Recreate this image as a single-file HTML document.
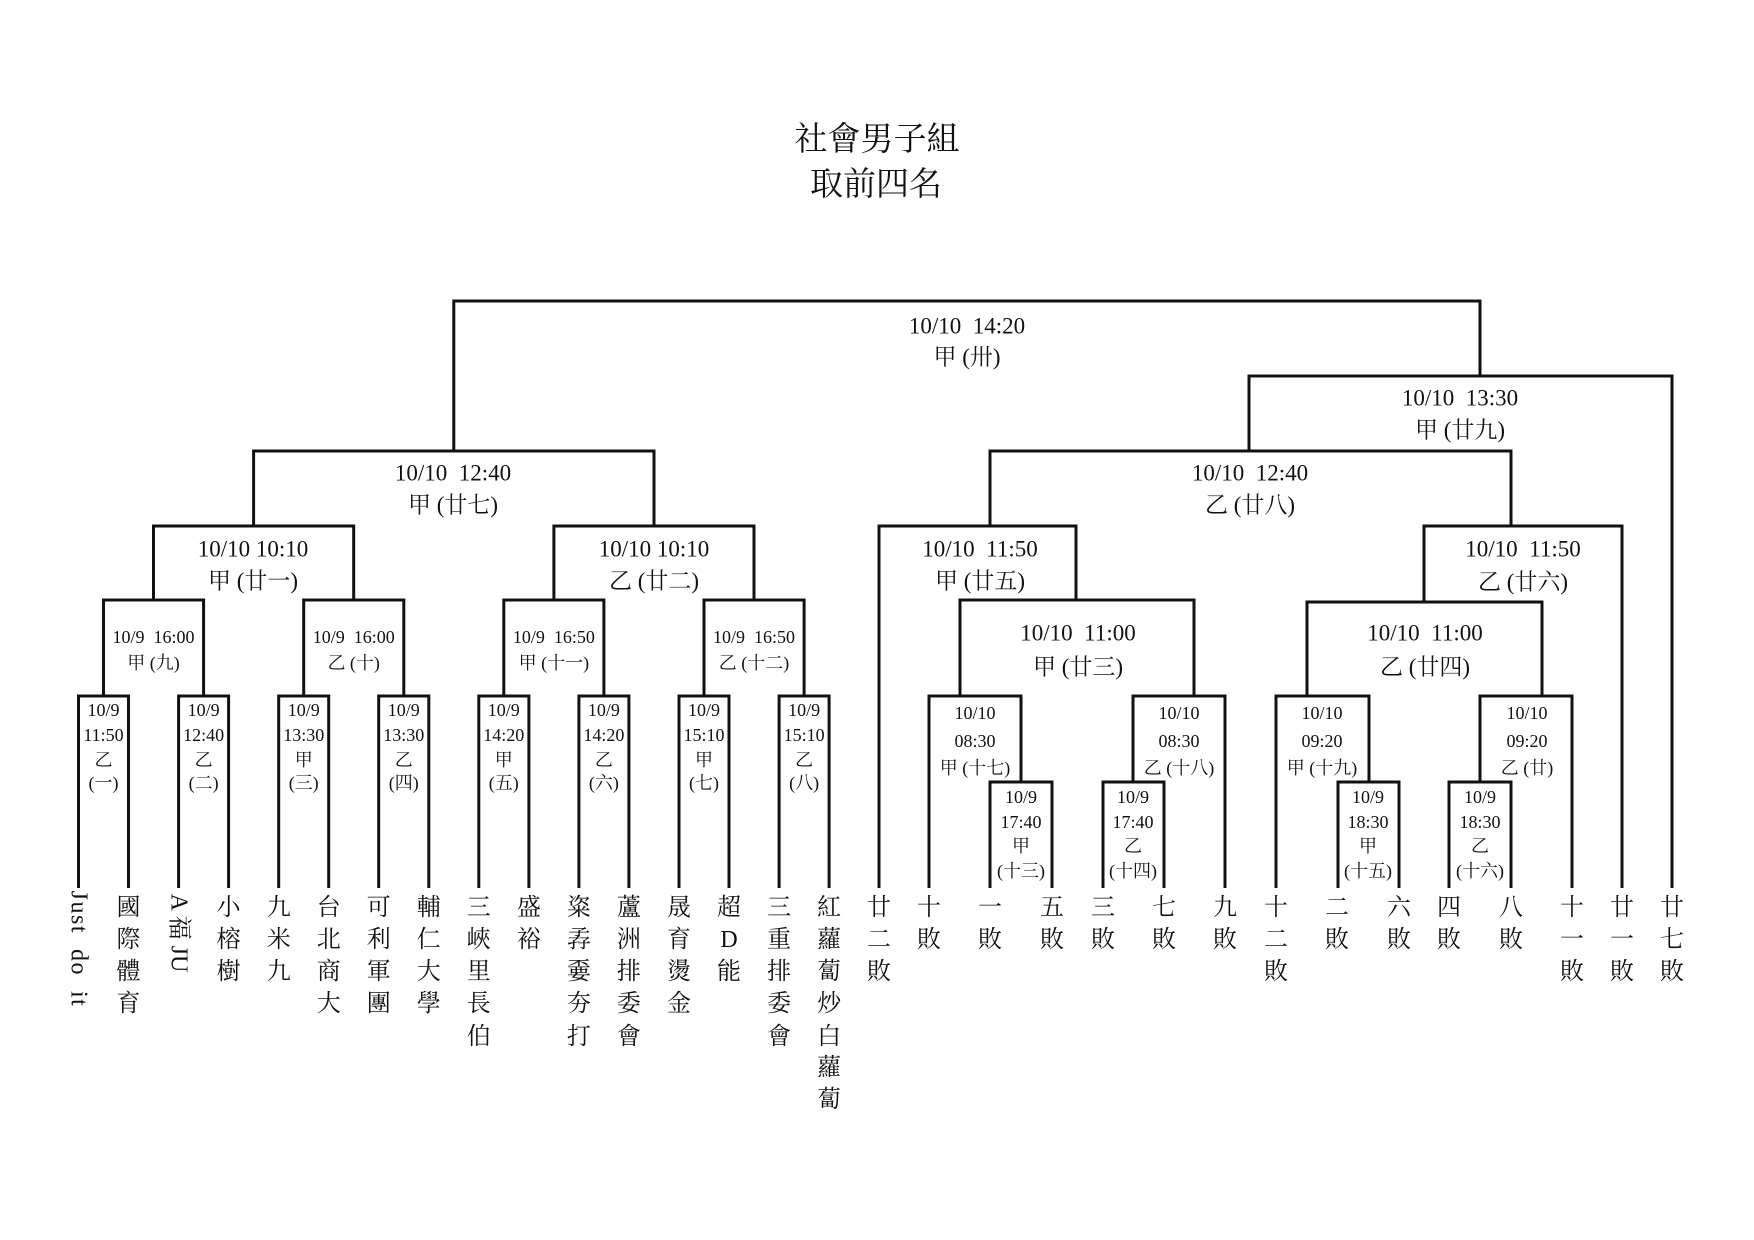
<!DOCTYPE html>
<html><head><meta charset="utf-8">
<style>
html,body{margin:0;padding:0;background:#fff;}
svg{display:block;}
text{font-family:"Liberation Serif","Noto Serif CJK SC","Noto Sans CJK TC",serif;fill:#111;}
.b{font-size:23px;}
.s{font-size:18px;}
.l{font-size:24px;}
.t{font-size:33px;}
</style></head><body>
<svg width="1754" height="1240" viewBox="0 0 1754 1240" xmlns="http://www.w3.org/2000/svg">
<rect width="1754" height="1240" fill="#fff"/>
<g fill="none" stroke="#111" stroke-width="3">
<!-- level1 left -->
<path d="M78.5 888V696H128.5V888"/>
<path d="M178.6 888V696H228.6V888"/>
<path d="M278.7 888V696H328.7V888"/>
<path d="M378.7 888V696H428.8V888"/>
<path d="M478.8 888V696H528.9V888"/>
<path d="M578.9 888V696H628.9V888"/>
<path d="M679 888V696H729V888"/>
<path d="M779.1 888V696H829.1V888"/>
<!-- level2 -->
<path d="M103.5 696V600H203.6V696"/>
<path d="M303.7 696V600H403.8V696"/>
<path d="M503.8 696V600H603.9V696"/>
<path d="M704 696V600H804.1V696"/>
<!-- level3 -->
<path d="M153.5 600V526H353.7V600"/>
<path d="M553.9 600V526H754V600"/>
<path d="M253.6 526V451H654V526"/>
<!-- top -->
<path d="M453.8 451V301H1480V376"/>
<path d="M1249 451V376H1672V888"/>
<path d="M990 526V451H1511V526"/>
<path d="M879 888V526H1076V600"/>
<path d="M960 696V600H1194V696"/>
<path d="M929 888V696H1021V782"/>
<path d="M990 888V782H1052V888"/>
<path d="M1133 782V696H1225V888"/>
<path d="M1103 888V782H1164V888"/>
<path d="M1424 602V526H1622V888"/>
<path d="M1307 696V602H1542V696"/>
<path d="M1276 888V696H1369V782"/>
<path d="M1338 888V782H1399V888"/>
<path d="M1480 782V696H1572V888"/>
<path d="M1449 888V782H1511V888"/>
</g>
<g text-anchor="middle" dominant-baseline="central">
<text class="t" x="877" y="140">社會男子組</text>
<text class="t" x="876" y="185">取前四名</text>

<text class="b" x="967" y="326" xml:space="preserve">10/10  14:20</text>
<text class="b" x="967" y="357">甲 (卅)</text>
<text class="b" x="1460" y="398" xml:space="preserve">10/10  13:30</text>
<text class="b" x="1460" y="430">甲 (廿九)</text>
<text class="b" x="453" y="473" xml:space="preserve">10/10  12:40</text>
<text class="b" x="453" y="505">甲 (廿七)</text>
<text class="b" x="1250" y="473" xml:space="preserve">10/10  12:40</text>
<text class="b" x="1250" y="505">乙 (廿八)</text>
<text class="b" x="253" y="549">10/10 10:10</text>
<text class="b" x="253" y="581">甲 (廿一)</text>
<text class="b" x="654" y="549">10/10 10:10</text>
<text class="b" x="654" y="581">乙 (廿二)</text>
<text class="b" x="980" y="549" xml:space="preserve">10/10  11:50</text>
<text class="b" x="980" y="581">甲 (廿五)</text>
<text class="b" x="1523" y="549" xml:space="preserve">10/10  11:50</text>
<text class="b" x="1523" y="582">乙 (廿六)</text>
<text class="b" x="1078" y="633" xml:space="preserve">10/10  11:00</text>
<text class="b" x="1078" y="667">甲 (廿三)</text>
<text class="b" x="1425" y="633" xml:space="preserve">10/10  11:00</text>
<text class="b" x="1425" y="667">乙 (廿四)</text>

<g class="s">
<text x="153.5" y="637" xml:space="preserve">10/9  16:00</text><text x="153.5" y="663">甲 (九)</text>
<text x="353.7" y="637" xml:space="preserve">10/9  16:00</text><text x="353.7" y="663">乙 (十)</text>
<text x="553.9" y="637" xml:space="preserve">10/9  16:50</text><text x="553.9" y="663">甲 (十一)</text>
<text x="754" y="637" xml:space="preserve">10/9  16:50</text><text x="754" y="663">乙 (十二)</text>

<text x="103.5" y="710">10/9</text><text x="103.5" y="735">11:50</text><text x="103.5" y="760">乙</text><text x="103.5" y="783">(一)</text>
<text x="203.6" y="710">10/9</text><text x="203.6" y="735">12:40</text><text x="203.6" y="760">乙</text><text x="203.6" y="783">(二)</text>
<text x="303.7" y="710">10/9</text><text x="303.7" y="735">13:30</text><text x="303.7" y="760">甲</text><text x="303.7" y="783">(三)</text>
<text x="403.8" y="710">10/9</text><text x="403.8" y="735">13:30</text><text x="403.8" y="760">乙</text><text x="403.8" y="783">(四)</text>
<text x="503.8" y="710">10/9</text><text x="503.8" y="735">14:20</text><text x="503.8" y="760">甲</text><text x="503.8" y="783">(五)</text>
<text x="603.9" y="710">10/9</text><text x="603.9" y="735">14:20</text><text x="603.9" y="760">乙</text><text x="603.9" y="783">(六)</text>
<text x="704" y="710">10/9</text><text x="704" y="735">15:10</text><text x="704" y="760">甲</text><text x="704" y="783">(七)</text>
<text x="804.1" y="710">10/9</text><text x="804.1" y="735">15:10</text><text x="804.1" y="760">乙</text><text x="804.1" y="783">(八)</text>

<text x="975" y="713">10/10</text><text x="975" y="741">08:30</text><text x="975" y="768">甲 (十七)</text>
<text x="1179" y="713">10/10</text><text x="1179" y="741">08:30</text><text x="1179" y="768">乙 (十八)</text>
<text x="1322" y="713">10/10</text><text x="1322" y="741">09:20</text><text x="1322" y="768">甲 (十九)</text>
<text x="1527" y="713">10/10</text><text x="1527" y="741">09:20</text><text x="1527" y="768">乙 (廿)</text>

<text x="1021" y="797">10/9</text><text x="1021" y="822">17:40</text><text x="1021" y="846">甲</text><text x="1021" y="871">(十三)</text>
<text x="1133" y="797">10/9</text><text x="1133" y="822">17:40</text><text x="1133" y="846">乙</text><text x="1133" y="871">(十四)</text>
<text x="1368" y="797">10/9</text><text x="1368" y="822">18:30</text><text x="1368" y="846">甲</text><text x="1368" y="871">(十五)</text>
<text x="1480" y="797">10/9</text><text x="1480" y="822">18:30</text><text x="1480" y="846">乙</text><text x="1480" y="871">(十六)</text>
</g>

<g class="l">
<text x="0" y="0" transform="translate(78.5 949) rotate(90)" text-anchor="middle" letter-spacing="1.5" xml:space="preserve">Just  do  it</text>
<text x="0" y="0" transform="translate(178.6 933) rotate(90)" text-anchor="middle" xml:space="preserve">A 福 JU</text>
</g>
</g>
<g class="l" text-anchor="middle" dominant-baseline="central" id="leaves"></g>
<g class="l" text-anchor="middle" dominant-baseline="central">
<!-- 國際體育 --><text x="128.5" y="908">國</text><text x="128.5" y="940">際</text><text x="128.5" y="972">體</text><text x="128.5" y="1004">育</text>
<text x="228.6" y="908">小</text><text x="228.6" y="940">榕</text><text x="228.6" y="972">樹</text>
<text x="278.7" y="908">九</text><text x="278.7" y="940">米</text><text x="278.7" y="972">九</text>
<text x="328.7" y="908">台</text><text x="328.7" y="940">北</text><text x="328.7" y="972">商</text><text x="328.7" y="1004">大</text>
<text x="378.7" y="908">可</text><text x="378.7" y="940">利</text><text x="378.7" y="972">軍</text><text x="378.7" y="1004">團</text>
<text x="428.8" y="908">輔</text><text x="428.8" y="940">仁</text><text x="428.8" y="972">大</text><text x="428.8" y="1004">學</text>
<text x="478.8" y="908">三</text><text x="478.8" y="940">峽</text><text x="478.8" y="972">里</text><text x="478.8" y="1004">長</text><text x="478.8" y="1037">伯</text>
<text x="528.9" y="908">盛</text><text x="528.9" y="940">裕</text>
<text x="578.9" y="908">粢</text><text x="578.9" y="940">孨</text><text x="578.9" y="972">嫑</text><text x="578.9" y="1004">夯</text><text x="578.9" y="1037">打</text>
<text x="628.9" y="908">蘆</text><text x="628.9" y="940">洲</text><text x="628.9" y="972">排</text><text x="628.9" y="1004">委</text><text x="628.9" y="1037">會</text>
<text x="679" y="908">晟</text><text x="679" y="940">育</text><text x="679" y="972">燙</text><text x="679" y="1004">金</text>
<text x="729" y="908">超</text><text x="729" y="940">D</text><text x="729" y="972">能</text>
<text x="779.1" y="908">三</text><text x="779.1" y="940">重</text><text x="779.1" y="972">排</text><text x="779.1" y="1004">委</text><text x="779.1" y="1037">會</text>
<text x="829.1" y="908">紅</text><text x="829.1" y="940">蘿</text><text x="829.1" y="972">蔔</text><text x="829.1" y="1004">炒</text><text x="829.1" y="1037">白</text><text x="829.1" y="1068">蘿</text><text x="829.1" y="1100">蔔</text>
<text x="879" y="908">廿</text><text x="879" y="940">二</text><text x="879" y="972">敗</text>
<text x="929" y="908">十</text><text x="929" y="940">敗</text>
<text x="990" y="908">一</text><text x="990" y="940">敗</text>
<text x="1052" y="908">五</text><text x="1052" y="940">敗</text>
<text x="1103" y="908">三</text><text x="1103" y="940">敗</text>
<text x="1164" y="908">七</text><text x="1164" y="940">敗</text>
<text x="1225" y="908">九</text><text x="1225" y="940">敗</text>
<text x="1276" y="908">十</text><text x="1276" y="940">二</text><text x="1276" y="972">敗</text>
<text x="1337" y="908">二</text><text x="1337" y="940">敗</text>
<text x="1399" y="908">六</text><text x="1399" y="940">敗</text>
<text x="1449" y="908">四</text><text x="1449" y="940">敗</text>
<text x="1511" y="908">八</text><text x="1511" y="940">敗</text>
<text x="1572" y="908">十</text><text x="1572" y="940">一</text><text x="1572" y="972">敗</text>
<text x="1622" y="908">廿</text><text x="1622" y="940">一</text><text x="1622" y="972">敗</text>
<text x="1672" y="908">廿</text><text x="1672" y="940">七</text><text x="1672" y="972">敗</text>
</g>
</svg>
</body></html>
